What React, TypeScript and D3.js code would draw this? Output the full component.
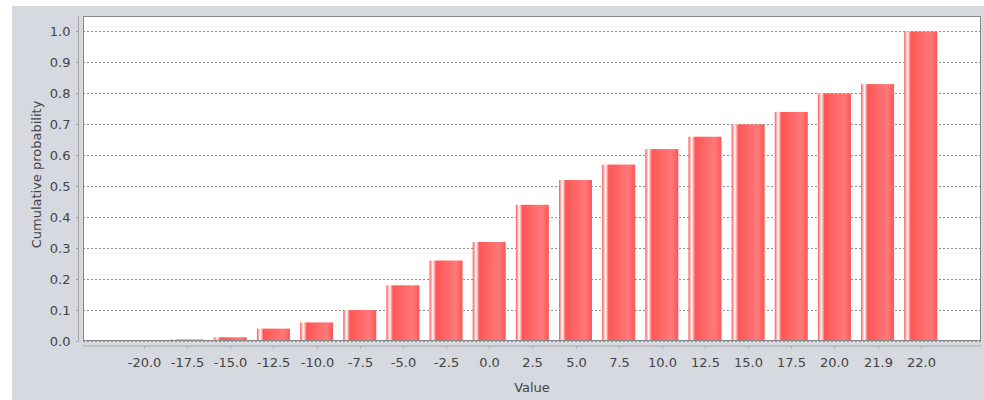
import React from "react";
import * as d3 from "d3";

const categories = [
  "-20.0", "-17.5", "-15.0", "-12.5", "-10.0", "-7.5", "-5.0", "-2.5", "0.0", "2.5",
  "5.0", "7.5", "10.0", "12.5", "15.0", "17.5", "20.0", "21.9", "22.0",
];
const cumulative = [
  0, 0.005, 0.012, 0.04, 0.06, 0.1, 0.18, 0.26, 0.32, 0.44,
  0.52, 0.57, 0.62, 0.66, 0.7, 0.74, 0.8, 0.83, 1.0,
];
const yTicks = [0, 0.1, 0.2, 0.3, 0.4, 0.5, 0.6, 0.7, 0.8, 0.9, 1.0];

const W = 984;
const H = 400;
const plot = { left: 83, right: 981, top: 16, bottom: 341 };
const font = "'DejaVu Sans', sans-serif";

export default function App() {
  const x = d3
    .scaleBand<string>()
    .domain(categories)
    .range([122.4, 942.3])
    .paddingInner(0.235)
    .paddingOuter(0.1175);
  const y = d3.scaleLinear().domain([0, 1.05]).range([plot.bottom, plot.top]);

  const axisY = plot.left - 4.5;
  const axisX = plot.bottom + 5;

  return (
    <div style={{ position: "absolute", left: 0, top: 0 }}>
      <svg width={W} height={H} style={{ display: "block" }}>
        <defs>
          <linearGradient id="barGrad" x1="0" x2="1" y1="0" y2="0">
            <stop offset="0" stopColor="#ff5555" />
            <stop offset="0.1" stopColor="#ffffff" />
            <stop offset="0.2" stopColor="#ff5555" />
            <stop offset="0.8" stopColor="#ff7979" />
            <stop offset="1" stopColor="#ff5555" />
          </linearGradient>
        </defs>
        <rect x={0} y={0} width={W} height={H} fill="#ffffff" />
        <rect x={12} y={6} width={W - 12} height={H - 6} fill="#d6d9df" />

        {/* plot area */}
        <rect
          x={plot.left}
          y={plot.top}
          width={plot.right - plot.left}
          height={plot.bottom - plot.top}
          fill="#ffffff"
        />
        {yTicks.map((t) => (
          <line
            key={"g" + t}
            x1={plot.left}
            x2={plot.right}
            y1={Math.round(y(t)) + 0.5}
            y2={Math.round(y(t)) + 0.5}
            stroke="#8f8f8f"
            strokeDasharray="2,2"
          />
        ))}

        {categories.map((c, i) => {
          const x0 = x(c)!;
          const top = y(cumulative[i]);
          const h = plot.bottom - top;
          if (h <= 0) return null;
          return (
            <rect
              key={c}
              x={x0}
              y={top}
              width={x.bandwidth()}
              height={h}
              fill="url(#barGrad)"
            />
          );
        })}

        <rect
          x={plot.left + 0.5}
          y={plot.top + 0.5}
          width={plot.right - plot.left - 1}
          height={plot.bottom - plot.top - 1}
          fill="none"
          stroke="#8a8a8a"
        />

        {/* y axis */}
        <line
          x1={axisY}
          x2={axisY}
          y1={plot.top}
          y2={plot.bottom}
          stroke="#a6a6a6"
        />
        {yTicks.map((t) => (
          <g key={"y" + t} transform={`translate(0,${Math.round(y(t)) + 0.5})`}>
            <line x1={axisY - 2.5} x2={axisY} stroke="#a6a6a6" />
            <text
              x={axisY - 8}
              dy="0.36em"
              textAnchor="end"
              fontFamily={font}
              fontSize={13}
              fill="#444444"
            >
              {t.toFixed(1)}
            </text>
          </g>
        ))}
        <text
          transform={`translate(41,${(plot.top + plot.bottom) / 2 - 4}) rotate(-90)`}
          textAnchor="middle"
          fontFamily={font}
          fontSize={13}
          fill="#444444"
        >
          Cumulative probability
        </text>

        {/* x axis */}
        <line
          x1={plot.left}
          x2={plot.right}
          y1={axisX}
          y2={axisX}
          stroke="#a6a6a6"
        />
        {categories.map((c) => {
          const cx = Math.round(x(c)! + x.bandwidth() / 2) + 0.5;
          return (
            <g key={"x" + c} transform={`translate(${cx},0)`}>
              <line y1={axisX} y2={axisX + 2.5} stroke="#a6a6a6" />
              <text
                y={366.5}
                textAnchor="middle"
                fontFamily={font}
                fontSize={13}
                fill="#444444"
              >
                {c}
              </text>
            </g>
          );
        })}
        <text
          x={(plot.left + plot.right) / 2}
          y={392}
          textAnchor="middle"
          fontFamily={font}
          fontSize={13}
          fill="#444444"
        >
          Value
        </text>
      </svg>
    </div>
  );
}
